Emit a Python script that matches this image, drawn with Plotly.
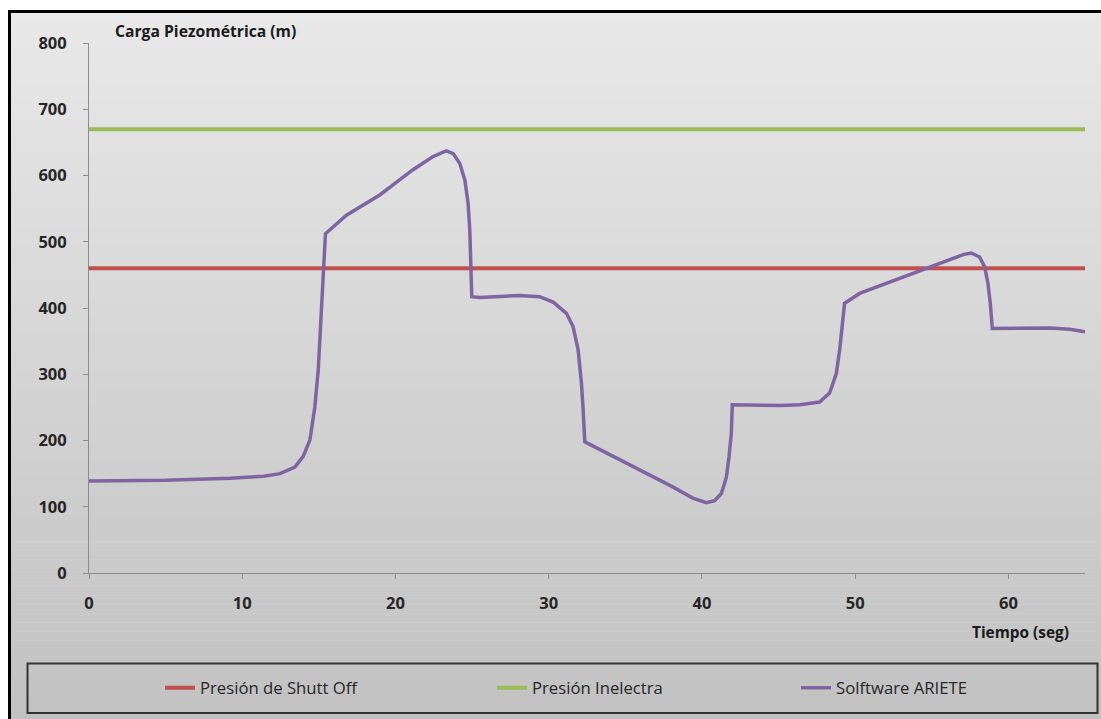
import plotly.graph_objects as go

# Time axis (s) and piezometric head (m) of the ARIETE transient simulation
tiempo = [0, 5, 9.2, 11.4, 12.46, 13.44, 13.98, 14.42, 14.74, 14.96, 15.11, 15.24, 15.35, 15.43,
          16.8, 19.0, 21.1, 22.4, 23.0, 23.33, 23.77, 24.2, 24.53, 24.74, 24.85, 24.92, 24.98,
          25.5, 28.1, 29.4, 30.29, 31.16, 31.59, 31.92, 32.14, 32.25, 32.36,
          38.1, 39.4, 40.29, 40.83, 41.27, 41.6, 41.77, 41.92, 41.98,
          45.07, 46.38, 47.68, 48.34, 48.77, 48.99, 49.16, 49.31,
          50.29, 55.1, 56.5, 57.1, 57.58, 58.12, 58.45, 58.67, 58.82, 58.95,
          62.7, 64.0, 65]
carga_ariete = [139, 140, 143, 146, 150, 160, 176, 201, 251, 306, 372, 432, 483, 512,
                540, 571, 608, 628, 634, 637, 633, 618, 593, 558, 518, 472, 417,
                416, 419, 417, 409, 392, 372, 337, 286, 246, 198,
                130, 113, 106, 109, 120, 145, 176, 211, 254,
                253, 254, 258, 272, 301, 337, 377, 407,
                422, 463, 476, 481, 483, 477, 462, 437, 407, 369,
                370, 368, 364]

# Reference pressures (m)
rango_t = [0, 65]
presion_shutoff = [460, 460]
presion_inelectra = [670, 670]

y_ticks = [0, 100, 200, 300, 400, 500, 600, 700, 800]
x_ticks = [0, 10, 20, 30, 40, 50, 60]

W, H = 1101, 719
L, R, T, B = 89, 16, 43, 146
pw, ph = W - L - R, H - T - B


def px(x):
    return (x - L) / pw


def py(y):
    return (H - B - y) / ph


fig = go.Figure()
fig.add_trace(go.Scatter(x=rango_t, y=presion_shutoff, mode="lines",
                         name="Presión de Shutt Off",
                         line=dict(color="#c0504d", width=4), legend="legend"))
fig.add_trace(go.Scatter(x=rango_t, y=presion_inelectra, mode="lines",
                         name="Presión Inelectra",
                         line=dict(color="#9bbb59", width=4), legend="legend2"))
fig.add_trace(go.Scatter(x=tiempo, y=carga_ariete, mode="lines",
                         name="Solftware ARIETE",
                         line=dict(color="#8064a2", width=3.5), legend="legend3"))

# Vertical grey gradient behind the whole chart area
shapes = []
n = 80
top, bot = 11, 730
for i in range(n):
    y0 = top + (bot - top) * i / n
    y1 = top + (bot - top) * (i + 1) / n + 0.6
    c = int(233 - (233 - 193) * i / (n - 1))
    shapes.append(dict(type="rect", xref="paper", yref="paper", layer="below",
                       x0=px(9), x1=px(1115), y0=py(y1), y1=py(y0),
                       fillcolor=f"rgb({c},{c},{c})", line=dict(width=0)))
# Outer frame
shapes.append(dict(type="rect", xref="paper", yref="paper", layer="above",
                   x0=px(9.5), x1=px(1115), y0=py(735), y1=py(11.5),
                   line=dict(color="black", width=3), fillcolor="rgba(0,0,0,0)"))
# Legend frame
shapes.append(dict(type="rect", xref="paper", yref="paper", layer="above",
                   x0=px(27.5), x1=px(1097.5), y0=py(713), y1=py(663.5),
                   line=dict(color="#333333", width=2), fillcolor="rgba(0,0,0,0)"))

font_fam = "'Open Sans', Lato, sans-serif"
leg_common = dict(orientation="h", yanchor="middle", y=py(688), xanchor="left",
                  bgcolor="rgba(0,0,0,0)", borderwidth=0,
                  font=dict(family=font_fam, size=16.7, color="#262626"))

fig.update_layout(
    width=W, height=H,
    margin=dict(l=L, r=R, t=T, b=B, pad=0),
    paper_bgcolor="white",
    plot_bgcolor="rgba(0,0,0,0)",
    showlegend=True,
    shapes=shapes,
    legend=dict(leg_common, x=px(160)),
    legend2=dict(leg_common, x=px(492)),
    legend3=dict(leg_common, x=px(796)),
    xaxis=dict(range=rango_t, tickvals=x_ticks, showgrid=False, zeroline=False,
               showline=True, linecolor="#8c8c8c", linewidth=1,
               ticks="outside", ticklen=5, tickcolor="#8c8c8c",
               ticklabelstandoff=10,
               tickfont=dict(family=font_fam, size=16.5, color="#262626", weight="bold")),
    yaxis=dict(range=[0, 800], tickvals=y_ticks, showgrid=False, zeroline=False,
               showline=True, linecolor="#8c8c8c", linewidth=1,
               ticks="outside", ticklen=5, tickcolor="#8c8c8c",
               ticklabelstandoff=13,
               tickfont=dict(family=font_fam, size=16.5, color="#262626", weight="bold")),
    annotations=[
        dict(text="<b>Carga Piezométrica (m)</b>", xref="paper", yref="paper",
             x=px(113), y=py(31), xanchor="left", yanchor="middle", showarrow=False,
             font=dict(family=font_fam, size=15.7, color="#1a1a1a")),
        dict(text="<b>Tiempo (seg)</b>", xref="paper", yref="paper",
             x=px(1071), y=py(632), xanchor="right", yanchor="middle", showarrow=False,
             font=dict(family=font_fam, size=15.4, color="#1a1a1a")),
    ],
)

fig.write_html("out.html")
